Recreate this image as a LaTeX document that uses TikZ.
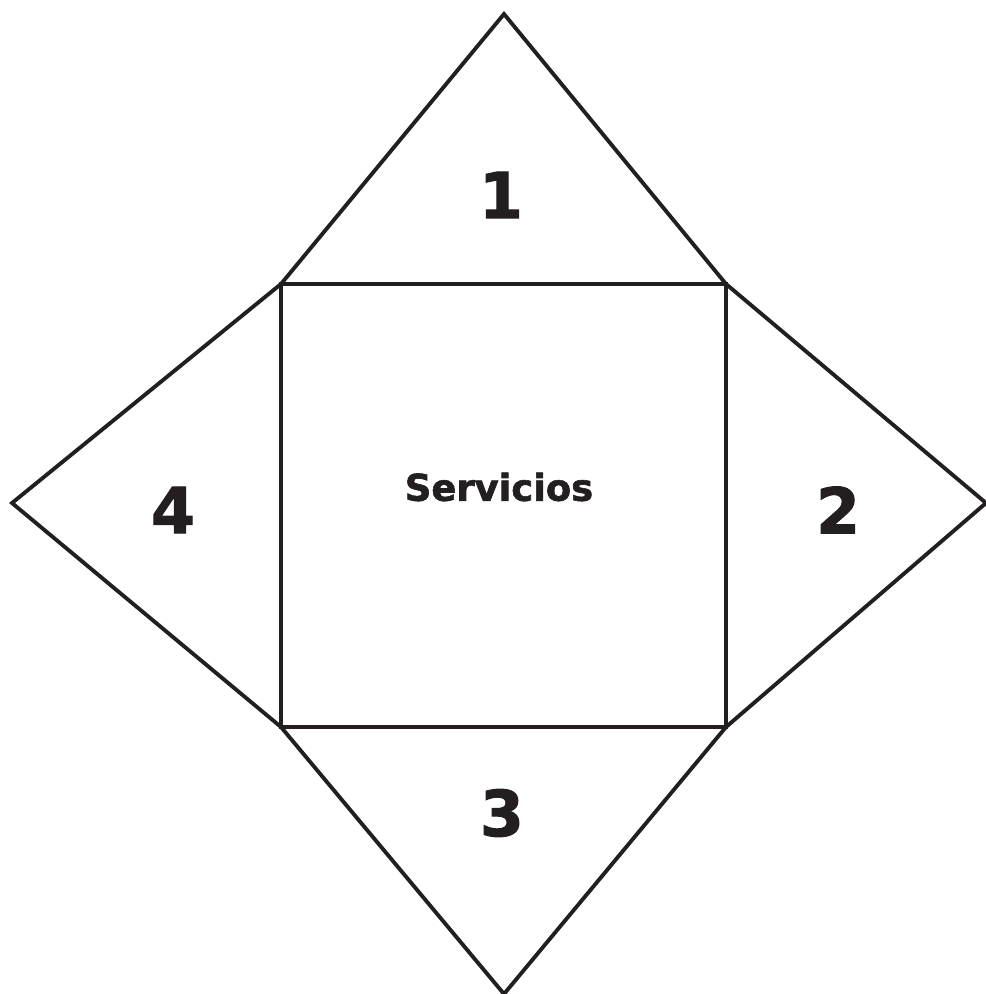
\documentclass[tikz,border=0pt]{standalone}
\usepackage{fontspec}
\setmainfont{DejaVu Sans}
\newfontfamily\heavyfont[FakeBold=1.6]{DejaVu Sans Bold}
\usepackage{tikz}
\usetikzlibrary{positioning}
\definecolor{inkdark}{RGB}{35,31,32}

\begin{document}
\begin{tikzpicture}[
      x=0.02cm, y=-0.02cm,
      edge/.style={draw=inkdark, line width=2.2pt, line join=miter},
      num/.style={text=inkdark, font=\heavyfont\fontsize{36}{40}\selectfont, inner sep=0pt},
      core/.style={text=inkdark, font=\heavyfont\fontsize{21}{24}\selectfont, inner sep=0pt}
    ]
      \useasboundingbox (0,0) rectangle (986,994);

      % corners of the square
      \coordinate (nw) at (281,284);
      \coordinate (ne) at (726,284);
      \coordinate (se) at (726,727);
      \coordinate (sw) at (281,727);

      % tips of the triangles
      \coordinate (tipN) at (504,14);
      \coordinate (tipE) at (986,503);
      \coordinate (tipS) at (504,994);
      \coordinate (tipW) at (12,503);

      % square
      \draw[edge] (nw) -- (ne) -- (se) -- (sw) -- cycle;

      % triangles
      \draw[edge] (nw) -- (tipN) -- (ne);
      \draw[edge] (ne) -- (tipE) -- (se);
      \draw[edge] (se) -- (tipS) -- (sw);
      \draw[edge] (sw) -- (tipW) -- (nw);

      % labels
      \node[core] (servicios) at (499,487) {Servicios};
      \node[num] (one) at (501,195) {1};
      \node[num] (two) at (838,510) {2};
      \node[num] (three) at (502,813) {3};
      \node[num] (four) at (173,510) {4};
    \end{tikzpicture}
\end{document}
